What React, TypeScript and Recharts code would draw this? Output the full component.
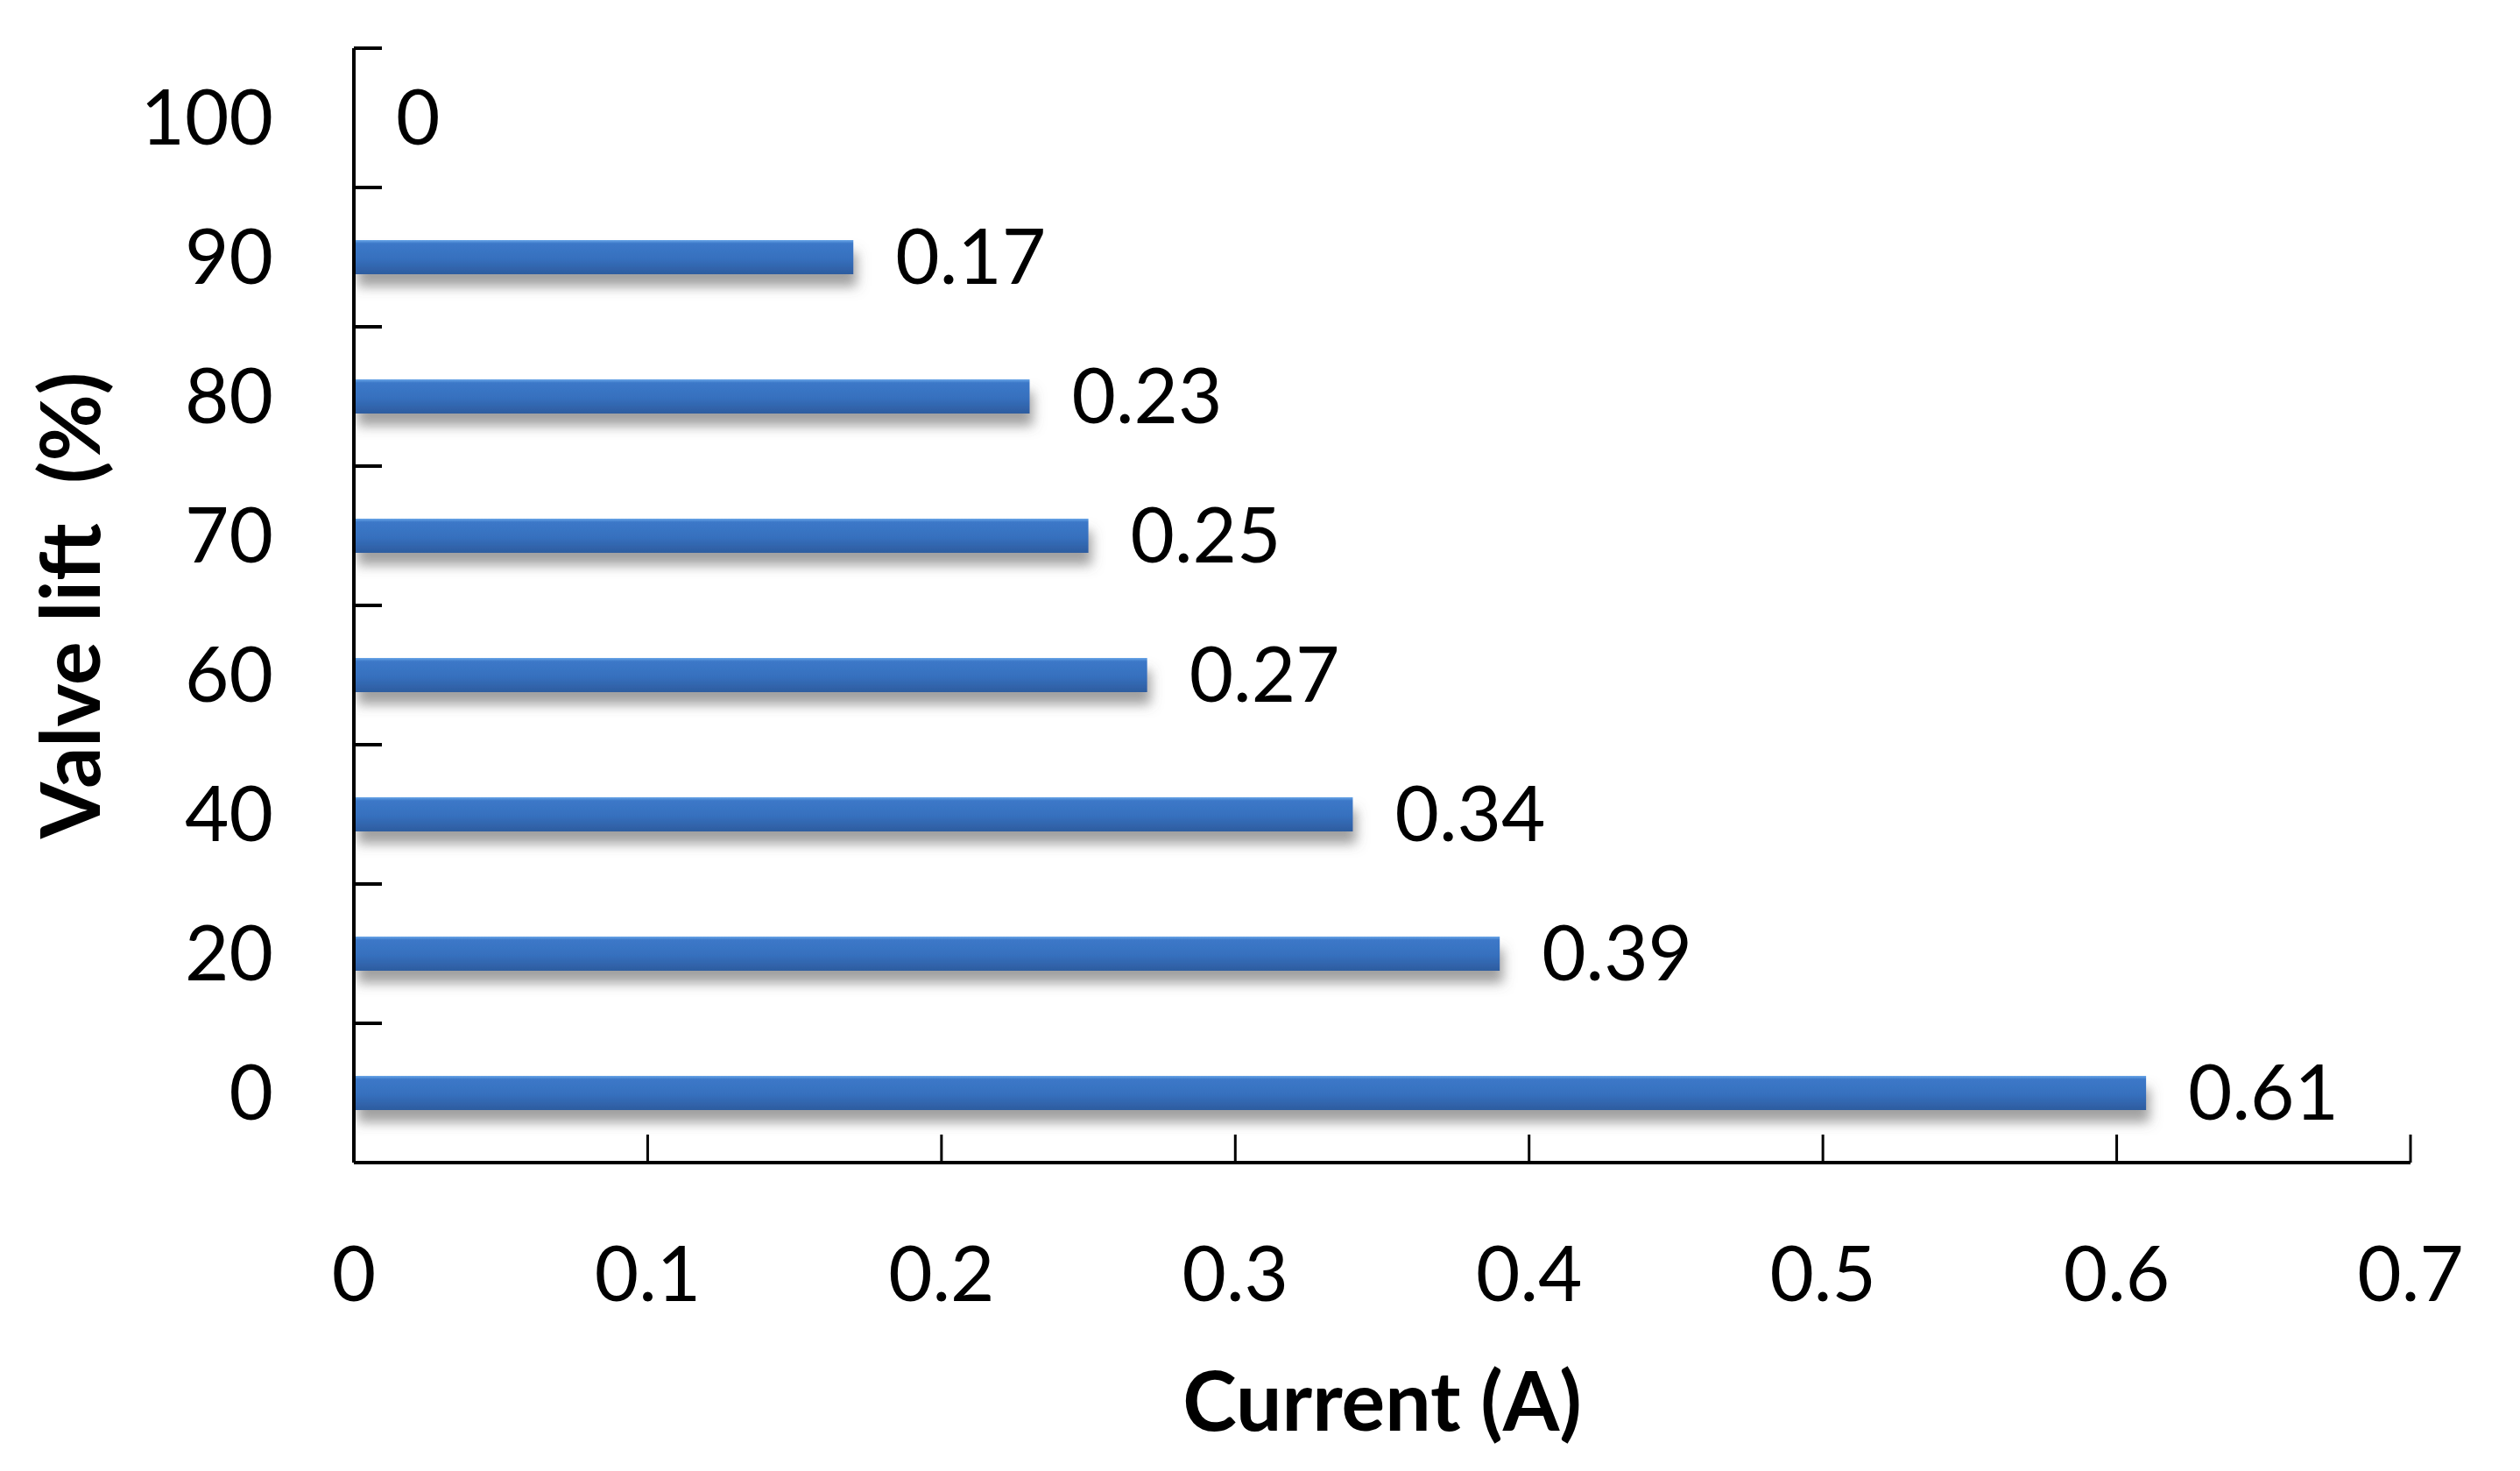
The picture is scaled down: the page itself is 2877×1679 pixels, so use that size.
import React from 'react';
import { BarChart, Bar, XAxis, YAxis, LabelList } from 'recharts';

const liftLabels = ['100', '90', '80', '70', '60', '40', '20', '0'];
const currentValues = [0, 0.17, 0.23, 0.25, 0.27, 0.34, 0.39, 0.61];
const currentTicks = [0, 0.1, 0.2, 0.3, 0.4, 0.5, 0.6, 0.7];

const data = liftLabels.map((lift, i) => ({ lift, current: currentValues[i] }));

const FONT = 'Lato, "Open Sans", sans-serif';
const CAT_TICK_MARGIN = 92;
const INNER_TICK = 32;

const BarShape = (props: any) => {
  const { x, y, width, height } = props;
  if (!width || width <= 0) return null;
  return (
    <g filter="url(#barShadow)">
      <rect x={x} y={y} width={width} height={height} fill="url(#barGrad)" />
    </g>
  );
};

// Category tick: label at band centre plus an inward tick mark at the band's top boundary
const CatTick = (props: any) => {
  const { x, y, payload, height, visibleTicksCount } = props;
  const axisX = x + CAT_TICK_MARGIN;
  let half = payload && typeof payload.offset === 'number' ? payload.offset : 0;
  if (!half && height && visibleTicksCount) half = height / visibleTicksCount / 2;
  const by = y - half;
  return (
    <g>
      <line x1={axisX} x2={axisX + INNER_TICK} y1={by} y2={by} stroke="#000" strokeWidth={4} />
      <text
        x={x}
        y={y}
        dy="0.355em"
        textAnchor="end"
        style={{ fontSize: 87, fill: '#000', fontFamily: FONT }}
      >
        {payload.value}
      </text>
    </g>
  );
};

const YTitle = (props: any) => {
  const vb = props.viewBox || { x: 0, y: 0, width: 0, height: 0 };
  const cx = vb.x + 106;
  const cy = vb.y + vb.height / 2;
  return (
    <text
      x={cx}
      y={cy}
      textAnchor="middle"
      transform={`rotate(-90, ${cx}, ${cy})`}
      style={{ fontFamily: FONT, fontSize: 93, fontWeight: 700, fill: '#000', whiteSpace: 'pre' }}
    >
      {'Valve lift  (%)'}
    </text>
  );
};

const XTitle = (props: any) => {
  const vb = props.viewBox || { x: 0, y: 0, width: 0, height: 0 };
  const cx = vb.x + vb.width / 2;
  const cy = vb.y + 306;
  return (
    <text
      x={cx}
      y={cy}
      textAnchor="middle"
      style={{ fontFamily: FONT, fontSize: 93, fontWeight: 700, fill: '#000' }}
    >
      Current (A)
    </text>
  );
};

const tickStyle = { fontSize: 87, fill: '#000', fontFamily: FONT };

export default function App() {
  return (
    <div style={{ width: 2861, height: 1663, background: '#fff' }}>
      <BarChart
        width={2861}
        height={1663}
        data={data}
        layout="vertical"
        margin={{ top: 47, right: 117, left: 0, bottom: 0 }}
        barCategoryGap={0}
      >
        <defs>
          <linearGradient id="barGrad" x1="0" y1="0" x2="0" y2="1">
            <stop offset="0%" stopColor="#6aa6e8" />
            <stop offset="10%" stopColor="#3c78c8" />
            <stop offset="55%" stopColor="#3670be" />
            <stop offset="100%" stopColor="#2d5c9f" />
          </linearGradient>
          <filter id="barShadow" x="-5%" y="-60%" width="112%" height="260%">
            <feDropShadow dx="4" dy="14" stdDeviation="7" floodColor="#606060" floodOpacity="0.6" />
          </filter>
        </defs>
        <XAxis
          type="number"
          domain={[0, 0.7]}
          ticks={currentTicks}
          interval={0}
          allowDataOverflow
          height={344}
          tickSize={-INNER_TICK}
          tickMargin={128}
          tick={tickStyle}
          axisLine={{ stroke: '#000', strokeWidth: 4 }}
          tickLine={{ stroke: '#000', strokeWidth: 3 }}
          label={<XTitle />}
        />
        <YAxis
          type="category"
          dataKey="lift"
          width={396}
          interval={0}
          tickSize={0}
          tickMargin={CAT_TICK_MARGIN}
          tickLine={false}
          tick={<CatTick />}
          axisLine={{ stroke: '#000', strokeWidth: 4 }}
          label={<YTitle />}
        />
        <Bar
          dataKey="current"
          barSize={39}
          shape={<BarShape />}
          isAnimationActive={false}
        >
          <LabelList
            dataKey="current"
            position="right"
            offset={48}
            style={{ fontSize: 87, fill: '#000', fontFamily: FONT }}
          />
        </Bar>
      </BarChart>
    </div>
  );
}
